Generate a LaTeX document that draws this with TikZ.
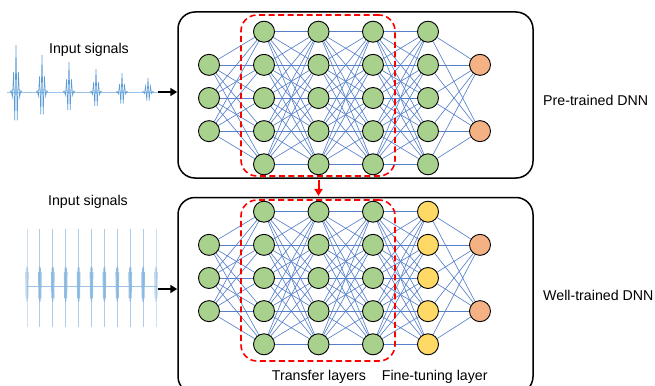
\documentclass[tikz,border=0pt]{standalone}
\usepackage{fontspec}
\setmainfont{Liberation Sans}
\usetikzlibrary{arrows.meta}
\pgfdeclarelayer{edges}
\pgfdeclarelayer{frames}
\pgfsetlayers{edges,frames,main}
\definecolor{neuG}{HTML}{A9D18E}
\definecolor{neuY}{HTML}{FFD966}
\definecolor{neuO}{HTML}{F4B183}
\definecolor{linkB}{HTML}{4472C4}
\definecolor{sigB}{HTML}{5B9BD5}
\definecolor{sigL}{HTML}{9DC3E6}
\begin{document}
\begin{tikzpicture}[x=1pt,y=-1pt,
  neuron/.style={circle, draw=black, line width=0.9pt, minimum size=21pt, inner sep=0pt},
  link/.style={draw=linkB!90, line width=0.65pt},
  frame/.style={draw=black, line width=1.5pt, rounded corners=17pt, inner sep=0pt},
  transfer/.style={draw=red, line width=1.6pt, dash pattern=on 6pt off 3.5pt, rounded corners=16pt, inner sep=0pt},
  inarrow/.style={draw=black, line width=2.5pt, -{Triangle[length=7pt,width=8pt]}},
  redarrow/.style={draw=red, line width=2pt, -{Triangle[length=7pt,width=8pt]}},
  lbl/.style={font=\fontsize{14.2}{17}\selectfont, inner sep=0pt},
  burst/.style={draw=sigB, line width=0.6pt}]
\useasboundingbox (0,0) rectangle (655,385);

% ---------- neurons ----------
\foreach \net/\yb/\lastcol in {T/31.7/neuG, B/211.7/neuY} {
  \foreach \r in {2,3,4}
    \node[neuron, fill=neuG] (\net-0-\r) at (209, {\yb+(\r-1)*33.15}) {};
  \foreach \L/\xx/\fc in {1/264/neuG, 2/318.5/neuG, 3/373/neuG, 4/428/\lastcol}
    \foreach \r in {1,...,5}
      \node[neuron, fill=\fc] (\net-\L-\r) at (\xx, {\yb+(\r-1)*33.15}) {};
  \foreach \r in {2,4}
    \node[neuron, fill=neuO] (\net-5-\r) at (480, {\yb+(\r-1)*33.15}) {};
}

% ---------- connections ----------
\begin{pgfonlayer}{edges}
\foreach \net in {T,B} {
  \foreach \a in {2,3,4}
    \foreach \b in {1,...,5}
      \draw[link] (\net-0-\a) -- (\net-1-\b);
  \foreach \L [evaluate=\L as \M using int(\L+1)] in {1,2,3}
    \foreach \a in {1,...,5}
      \foreach \b in {1,...,5}
        \draw[link] (\net-\L-\a) -- (\net-\M-\b);
  \foreach \a in {1,...,5}
    \foreach \b in {2,4}
      \draw[link] (\net-4-\a) -- (\net-5-\b);
}
\end{pgfonlayer}

% ---------- frames ----------
\begin{pgfonlayer}{frames}
\begin{scope}
\clip (0,0) rectangle (655,385);
\node[frame, minimum width=355pt, minimum height=166pt] (topbox) at (355.5, 95) {};
\node[frame, minimum width=355pt, minimum height=196pt] (botbox) at (355.5, 295.5) {};
\node[transfer, minimum width=154pt, minimum height=161pt] (topdash) at (318, 95.5) {};
\node[transfer, minimum width=154pt, minimum height=161pt] (botdash) at (318, 280.5) {};
\end{scope}
\end{pgfonlayer}

% ---------- arrows ----------
\coordinate (sigT) at (158, 92);
\coordinate (sigBt) at (158, 289);
\draw[inarrow] (sigT) -- (sigT -| topbox.west);
\draw[inarrow] (sigBt) -- (sigBt -| botbox.west);
\draw[redarrow, shorten <=0.8pt, shorten >=0.8pt] (topbox.south -| T-2-1) -- (botbox.north -| T-2-1);

% ---------- top input signal ----------
\draw[sigL, line width=0.8pt] (7,92) -- (158,92);
\foreach \xc/\A in {16/47, 42/37, 69/30, 96/23, 122/19, 148/14}
  \draw[burst] plot[domain=-6:6, samples=11]
    ({\xc+\x}, {92-\A*exp(-(\x/2.6)^2)*(0.875*cos(\x*150)+0.125)});

% ---------- bottom input signal ----------
\draw[sigL, line width=0.8pt] (27,286.5) -- (156,286.5);
\foreach \k in {0,...,10} {
  \pgfmathsetmacro{\xc}{27+12.9*\k}
  \pgfmathsetmacro{\op}{(\k==0 || \k==10) ? 0.5 : 0.85}
  \draw[sigL, line width=0.9pt, opacity=\op] (\xc,229) -- (\xc,327);
  \draw[draw=sigB!75, line width=0.5pt, opacity=\op] plot[domain=-1.6:1.6, samples=9]
    ({\xc+\x}, {284-18*cos(\x*450)*exp(-(\x/2.5)^2)});
}

% ---------- labels ----------
\node[lbl, anchor=base] (inTop) at (89, 53.5) {Input signals};
\node[lbl, anchor=base] (inBot) at (88, 205.5) {Input signals};
\node[lbl, anchor=base west] (pre) at (543, 105.7) {Pre-trained DNN};
\node[lbl, anchor=base west] (well) at (543, 300.7) {Well-trained DNN};
\node[lbl, anchor=base] (tl) at (319, 380) {Transfer layers};
\node[lbl, anchor=base] (ft) at (434.7, 380) {Fine-tuning layer};
\end{tikzpicture}
\end{document}
